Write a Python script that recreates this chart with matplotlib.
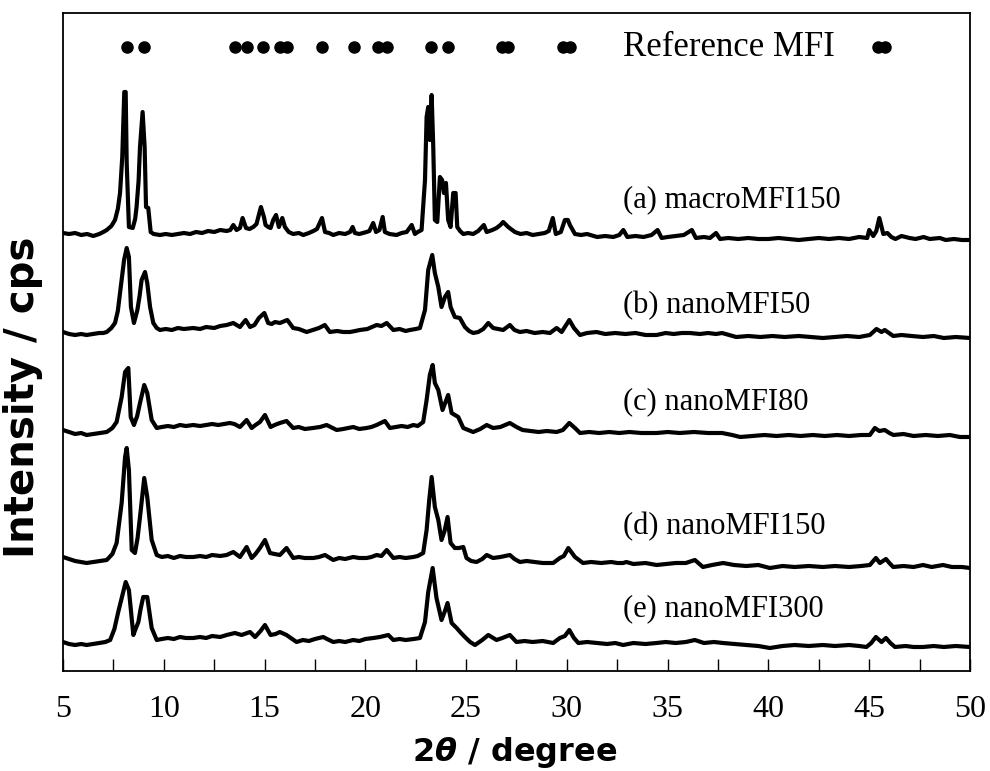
import matplotlib.pyplot as plt

# XRD patterns, stacked (arbitrary intensity units, offsets included)
two_theta_a = [5.0, 5.3, 5.6, 5.9, 6.2, 6.5, 6.8, 7.0, 7.17, 7.4, 7.58, 7.72, 7.83, 7.94, 8.04, 8.11, 8.16, 8.27,
               8.46, 8.58, 8.65, 8.75, 8.82, 8.95, 9.05, 9.12, 9.23, 9.35, 9.5, 9.81, 10.1, 10.4, 10.7, 11.0,
               11.3, 11.6, 11.9, 12.2, 12.5, 12.8, 13.12, 13.3, 13.45, 13.61, 13.78, 13.91, 14.08, 14.25, 14.44,
               14.6, 14.69, 14.82, 14.97, 15.05, 15.18, 15.3, 15.43, 15.57, 15.71, 15.88, 16.01, 16.2, 16.42,
               16.7, 16.92, 17.2, 17.42, 17.6, 17.85, 18.0, 18.2, 18.41, 18.7, 19.0, 19.24, 19.37, 19.48, 19.7,
               20.06, 20.2, 20.39, 20.53, 20.7, 20.86, 20.97, 21.2, 21.55, 21.8, 22.05, 22.30, 22.46, 22.6,
               22.79, 22.96, 23.04, 23.12, 23.20, 23.29, 23.37, 23.45, 23.57, 23.70, 23.81, 23.90, 24.0, 24.11,
               24.23, 24.36, 24.48, 24.56, 24.7, 24.86, 25.1, 25.35, 25.6, 25.88, 26.02, 26.3, 26.51, 26.7,
               26.84, 27.09, 27.42, 27.7, 28.0, 28.3, 28.6, 28.9, 29.1, 29.3, 29.45, 29.7, 29.9, 30.05, 30.15,
               30.4, 30.7, 31.0, 31.5, 31.9, 32.3, 32.6, 32.8, 33.0, 33.4, 33.8, 34.2, 34.5, 34.7, 35.0, 35.4,
               35.8, 36.2, 36.4, 36.8, 37.1, 37.4, 37.6, 38.0, 38.5, 39.0, 39.5, 40.0, 40.5, 41.0, 41.5, 42.0,
               42.5, 43.0, 43.5, 44.0, 44.5, 44.9, 45.0, 45.2, 45.35, 45.5, 45.7, 45.9, 46.1, 46.3, 46.6, 47.0,
               47.3, 47.7, 48.0, 48.5, 48.8, 49.2, 49.6, 50.0]
int_a = [438, 437, 438, 436, 437, 435, 437, 439, 441, 445, 451, 462, 478, 514, 579, 579, 508, 444,
         443, 452, 464, 490, 524, 559, 524, 464, 463, 439, 437, 436, 437, 436, 437, 438,
         437, 439, 438, 440, 439, 441, 440, 441, 446, 441, 443, 453, 443, 442, 444,
         447, 454, 464, 454, 446, 444, 443, 451, 456, 444, 453, 444, 439, 437,
         438, 436, 438, 440, 442, 453, 439, 438, 436, 438, 437, 439, 444, 438, 437,
         439, 440, 448, 439, 441, 454, 439, 437, 436, 438, 439, 446, 437, 439,
         441, 491, 554, 564, 531, 576, 524, 451, 449, 494, 491, 478, 488, 451,
         444, 478, 478, 444, 440, 437, 438, 437, 440, 446, 439, 441, 443, 446,
         449, 444, 439, 437, 438, 436, 437, 438, 440, 453, 437, 439, 451, 451, 446,
         437, 436, 437, 434, 435, 434, 436, 441, 434, 435, 434, 436, 441, 433, 434, 435,
         436, 441, 433, 434, 433, 438, 432, 433, 432, 433, 432, 432, 433, 432, 431, 432,
         433, 432, 433, 432, 434, 433, 441, 435, 440, 453, 437, 438, 434, 432, 435, 433,
         432, 434, 432, 433, 431, 432, 431, 431]

two_theta_b = [5.0, 5.3, 5.6, 5.9, 6.17, 6.5, 6.8, 7.0, 7.17, 7.4, 7.58, 7.72, 7.83, 8.03, 8.16, 8.27, 8.37,
               8.52, 8.69, 8.8, 8.90, 9.07, 9.18, 9.32, 9.48, 9.65, 9.81, 10.1, 10.4, 10.7, 11.0, 11.46, 11.8,
               12.1, 12.5, 12.8, 13.12, 13.45, 13.78, 14.06, 14.28, 14.5, 14.72, 14.99, 15.18, 15.35, 15.52,
               15.76, 16.13, 16.42, 16.7, 17.09, 17.4, 17.7, 17.99, 18.24, 18.6, 18.9, 19.24, 19.5, 19.73, 20.1,
               20.56, 20.8, 21.06, 21.39, 21.7, 22.0, 22.21, 22.5, 22.71, 22.96, 23.12, 23.32, 23.45, 23.62,
               23.78, 23.95, 24.11, 24.23, 24.44, 24.69, 24.94, 25.15, 25.35, 25.6, 25.85, 26.10, 26.34, 26.6,
               26.84, 27.17, 27.4, 27.67, 28.0, 28.4, 28.8, 29.16, 29.49, 29.74, 30.12, 30.35, 30.65, 31.0,
               31.47, 31.9, 32.4, 32.9, 33.4, 33.9, 34.45, 34.9, 35.3, 35.7, 36.1, 36.6, 37.0, 37.4, 37.7, 38.4,
               39.0, 39.6, 40.2, 40.8, 41.5, 42.1, 42.7, 43.3, 43.9, 44.5, 45.03, 45.36, 45.61, 45.77, 46.19,
               46.6, 47.1, 47.67, 48.2, 48.7, 49.3, 50.0]
int_b = [339, 337, 336, 337, 336, 337, 338, 338, 339, 343, 348, 360, 378, 411, 423, 414, 364,
         348, 361, 375, 391, 399, 388, 364, 348, 343, 341, 342, 341, 343, 342, 343, 342,
         344, 343, 345, 346, 348, 344, 351, 344, 346, 353, 358, 348, 347, 349,
         348, 351, 343, 342, 339, 341, 343, 346, 339, 340, 339, 339, 340, 341, 342,
         346, 345, 348, 341, 342, 340, 341, 342, 343, 361, 401, 416, 398, 384,
         364, 374, 379, 364, 354, 353, 344, 340, 338, 339, 342, 348, 343, 342,
         341, 346, 341, 339, 340, 338, 339, 338, 343, 339, 351, 343, 336, 338,
         339, 337, 338, 337, 338, 336, 336, 338, 337, 338, 338, 337, 338, 337, 338, 334,
         335, 334, 335, 334, 335, 334, 333, 334, 335, 334, 336, 342, 339, 341, 335,
         336, 335, 334, 335, 333, 334, 333]

two_theta_c = [5.0, 5.3, 5.6, 5.9, 6.17, 6.5, 6.8, 7.17, 7.45, 7.66, 7.91, 8.08, 8.24, 8.36, 8.52, 8.68, 8.82,
               9.03, 9.18, 9.40, 9.65, 9.9, 10.2, 10.5, 10.8, 11.1, 11.46, 11.8, 12.1, 12.4, 12.7, 13.0, 13.28,
               13.5, 13.78, 14.11, 14.36, 14.55, 14.77, 15.02, 15.30, 15.5, 15.76, 16.09, 16.42, 16.7, 17.0,
               17.4, 17.75, 18.08, 18.58, 18.9, 19.15, 19.4, 19.7, 20.06, 20.3, 20.56, 20.97, 21.22, 21.5, 21.8,
               22.1, 22.38, 22.6, 22.87, 23.04, 23.2, 23.34, 23.45, 23.62, 23.83, 24.11, 24.28, 24.45, 24.61,
               24.86, 25.1, 25.35, 25.7, 26.02, 26.34, 26.7, 27.17, 27.5, 27.8, 28.2, 28.6, 29.0, 29.49, 29.8,
               30.12, 30.4, 30.65, 31.1, 31.6, 32.1, 32.6, 33.1, 33.7, 34.45, 35.0, 35.6, 36.3, 37.0, 37.7,
               38.2, 38.6, 39.2, 39.8, 40.4, 41.0, 41.6, 42.2, 42.8, 43.4, 44.0, 44.6, 45.03, 45.28, 45.5,
               45.77, 46.0, 46.2, 46.7, 47.2, 47.8, 48.4, 49.0, 49.5, 50.0]
int_c = [241, 239, 237, 238, 236, 237, 238, 239, 243, 249, 274, 299, 303, 254, 246, 255, 268,
         286, 278, 251, 243, 244, 245, 244, 246, 245, 246, 245, 246, 247, 246, 247, 248,
         247, 244, 251, 243, 246, 249, 256, 244, 246, 248, 250, 243, 244, 242,
         243, 244, 246, 241, 242, 243, 244, 242, 243, 244, 246, 250, 243, 244, 245,
         244, 246, 245, 249, 271, 296, 306, 288, 281, 261, 276, 258, 256, 254,
         243, 241, 239, 242, 246, 243, 244, 248, 244, 241, 240, 239, 240, 239, 241,
         248, 243, 238, 239, 238, 239, 238, 239, 238, 238, 239, 238, 239, 238, 238,
         236, 234, 235, 236, 235, 236, 235, 236, 235, 236, 235, 236, 236, 243, 240,
         241, 238, 236, 237, 235, 236, 235, 236, 234, 234]

two_theta_d = [5.0, 5.3, 5.6, 5.9, 6.17, 6.5, 6.8, 7.17, 7.45, 7.66, 7.91, 8.08, 8.16, 8.27, 8.41, 8.57, 8.7,
               8.82, 9.03, 9.18, 9.40, 9.65, 9.9, 10.2, 10.5, 10.8, 11.1, 11.46, 11.8, 12.1, 12.4, 12.8, 13.12,
               13.45, 13.78, 14.11, 14.36, 14.55, 14.77, 15.02, 15.27, 15.5, 15.76, 16.09, 16.42, 16.7, 17.0,
               17.42, 17.7, 18.0, 18.41, 18.7, 19.0, 19.4, 19.7, 20.06, 20.3, 20.56, 20.8, 21.06, 21.39, 21.7,
               22.0, 22.38, 22.6, 22.87, 23.04, 23.17, 23.29, 23.45, 23.62, 23.78, 23.93, 24.08, 24.23, 24.44,
               24.65, 24.86, 25.02, 25.25, 25.52, 25.8, 26.02, 26.34, 26.7, 27.17, 27.4, 27.67, 28.0, 28.4,
               28.8, 29.32, 29.65, 29.85, 30.07, 30.25, 30.40, 30.8, 31.2, 31.7, 32.2, 32.5, 32.79, 32.95,
               33.3, 33.9, 34.45, 34.9, 35.4, 35.9, 36.35, 36.75, 37.2, 37.75, 38.3, 38.9, 39.5, 40.07, 40.7,
               41.3, 42.0, 42.7, 43.3, 44.0, 44.6, 45.03, 45.33, 45.53, 45.83, 46.0, 46.19, 46.7, 47.2, 47.67,
               48.1, 48.66, 49.1, 49.6, 50.0]
int_d = [114, 112, 110, 109, 108, 109, 110, 111, 117, 128, 168, 214, 223, 201, 121, 118, 133,
         154, 193, 174, 131, 116, 114, 115, 113, 115, 114, 114, 115, 114, 116, 115, 116,
         119, 114, 124, 113, 117, 123, 131, 118, 117, 116, 123, 113, 114, 113,
         113, 114, 116, 111, 113, 112, 114, 113, 113, 114, 116, 115, 121, 113, 114,
         113, 114, 115, 118, 141, 171, 194, 164, 151, 131, 140, 154, 128, 123,
         123, 124, 113, 110, 109, 112, 116, 113, 114, 116, 112, 109, 110, 109,
         108, 108, 113, 115, 123, 118, 114, 108, 109, 108, 109, 108, 108, 109,
         107, 108, 106, 107, 108, 108, 111, 104, 106, 108, 106, 105, 106, 103, 105,
         104, 105, 104, 105, 104, 105, 106, 113, 108, 112, 108, 104, 105, 104, 106,
         104, 106, 104, 104, 103]

two_theta_e = [5.0, 5.3, 5.6, 5.9, 6.17, 6.5, 6.8, 7.1, 7.34, 7.55, 7.74, 7.99, 8.11, 8.27, 8.49, 8.6, 8.74,
               8.85, 8.98, 9.18, 9.4, 9.65, 9.9, 10.2, 10.5, 10.8, 11.1, 11.46, 11.8, 12.1, 12.4, 12.8, 13.12,
               13.53, 13.86, 14.28, 14.53, 14.8, 15.02, 15.30, 15.55, 15.76, 16.09, 16.3, 16.59, 16.9, 17.2,
               17.5, 17.91, 18.1, 18.41, 18.7, 19.0, 19.4, 19.7, 20.0, 20.4, 20.72, 21.14, 21.39, 21.7, 22.0,
               22.4, 22.71, 22.96, 23.12, 23.34, 23.53, 23.78, 23.95, 24.08, 24.28, 24.53, 24.75, 24.94, 25.2,
               25.44, 25.8, 26.1, 26.51, 26.8, 27.17, 27.5, 27.9, 28.3, 28.8, 29.32, 29.65, 29.9, 30.12, 30.35,
               30.57, 31.0, 31.5, 32.0, 32.4, 32.79, 33.3, 33.9, 34.45, 34.9, 35.4, 35.9, 36.35, 36.8, 37.3,
               37.75, 38.3, 38.9, 39.5, 40.07, 40.7, 41.3, 42.0, 42.7, 43.3, 44.0, 44.5, 44.86, 45.1, 45.33,
               45.61, 45.83, 46.05, 46.28, 46.8, 47.2, 47.67, 48.2, 48.7, 49.3, 50.0]
int_e = [29, 27, 26, 27, 26, 27, 28, 29, 31, 42, 59, 79, 89, 81, 36, 42, 49,
         62, 74, 74, 43, 31, 32, 33, 32, 34, 33, 33, 34, 33, 35, 34, 36,
         38, 36, 39, 34, 40, 46, 36, 37, 39, 36, 33, 29, 31, 30,
         32, 34, 32, 29, 30, 29, 31, 30, 32, 33, 34, 36, 31, 32, 31,
         32, 33, 49, 79, 103, 73, 51, 60, 68, 48, 43, 38, 34, 29,
         26, 31, 36, 31, 33, 36, 29, 30, 29, 30, 28, 33, 35, 41, 33,
         28, 29, 28, 27, 28, 26, 28, 27, 28, 29, 28, 29, 31, 28, 29,
         28, 27, 26, 25, 23, 25, 26, 25, 26, 25, 26, 25, 24, 28, 34,
         29, 33, 28, 24, 25, 24, 24, 25, 24, 25, 24]

# reference MFI reflections
ref_peaks = [8.17, 9.02, 13.53, 14.13, 14.92, 15.76, 16.11, 17.85, 19.43, 20.63, 21.07,
             23.25, 24.10, 26.78, 27.07, 29.80, 30.15, 45.43, 45.77]
ref_level = 624

labels = ['(a) macroMFI150', '(b) nanoMFI50', '(c) nanoMFI80', '(d) nanoMFI150', '(e) nanoMFI300']
label_y = [471, 365, 269, 144, 62]
label_x = 32.8

serif = 'Liberation Serif'

fig = plt.figure(figsize=(9.9, 7.71), dpi=100)
ax = fig.add_axes([63 / 990, 100 / 771, 907 / 990, 658 / 771])

for xs, ys in [(two_theta_a, int_a), (two_theta_b, int_b), (two_theta_c, int_c),
               (two_theta_d, int_d), (two_theta_e, int_e)]:
    ax.plot(xs, ys, color='black', lw=3, solid_joinstyle='round')

ax.plot(ref_peaks, [ref_level] * len(ref_peaks), 'o', color='black', ms=8)
ax.text(label_x, ref_level, 'Reference MFI', fontsize=25, family=serif, va='center', ha='left')
for lab, y in zip(labels, label_y):
    ax.text(label_x, y, lab, fontsize=22, family=serif, va='center', ha='left')

ax.set_xlim(5, 50)
ax.set_ylim(0, 658)
ax.set_xticks(range(5, 51, 5))
ax.set_xticks([x + 2.5 for x in range(5, 50, 5)], minor=True)
ax.tick_params(axis='x', which='both', direction='in', length=9, width=1, pad=17)
ax.tick_params(axis='x', which='major', labelsize=23)
ax.set_yticks([])
for lab in ax.get_xticklabels():
    lab.set_family(serif)
for sp in ax.spines.values():
    sp.set_linewidth(1.3)

fig.text(515 / 990, 1 - 752 / 771, '2$\\boldsymbol{\\theta}$ / degree', fontsize=23,
         fontweight='heavy', family='DejaVu Sans', ha='center', va='center')
fig.text(23 / 990, 1 - 397 / 771, 'Intensity / cps', fontsize=29, fontweight='heavy',
         family='DejaVu Sans', rotation=90, ha='center', va='center')

fig.savefig('out.png', dpi=100)
